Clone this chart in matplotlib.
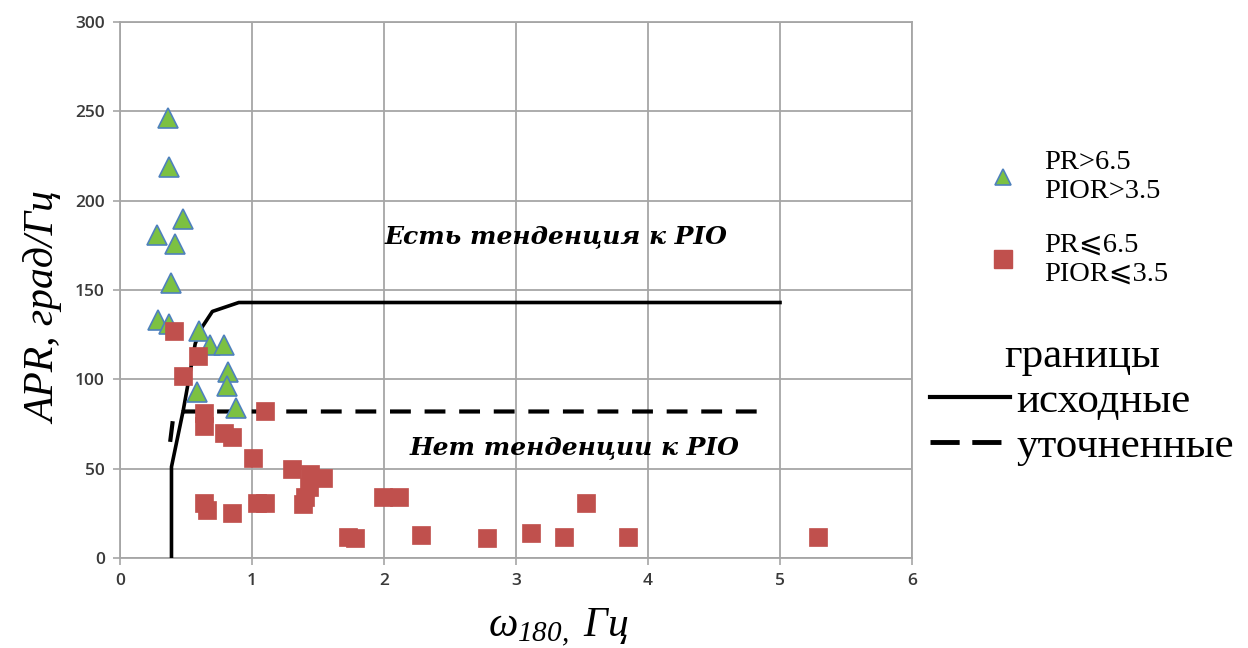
import numpy as np
import matplotlib
matplotlib.use('Agg')
import matplotlib.pyplot as plt
from matplotlib.lines import Line2D

# --- данные ---
tri_x = [0.36, 0.37, 0.28, 0.48, 0.42, 0.39, 0.29, 0.37, 0.60, 0.68, 0.79, 0.82, 0.81, 0.58, 0.88]
tri_y = [246, 219, 181, 190, 176, 154, 133, 131, 127, 119, 119, 104, 96, 93, 84]

sq_x = [0.41, 0.59, 0.48, 0.64, 0.64, 0.79, 0.85, 1.10, 1.01, 0.64, 0.66, 0.85, 1.04, 1.10,
        1.30, 1.44, 1.54, 1.43, 1.40, 1.39, 1.73, 1.78, 1.99, 2.11, 2.28, 2.78, 3.11, 3.36,
        3.53, 3.85, 5.29]
sq_y = [127, 113, 102, 81, 74, 70, 68, 82, 56, 31, 27, 25, 31, 31,
        50, 47, 45, 40, 34, 30, 12, 11, 34, 34, 13, 11, 14, 12,
        31, 12, 12]

# границы: исходные и уточненные
orig_x = [0.39, 0.39, 0.48, 0.57, 0.62, 0.70, 0.90, 5.0]
orig_y = [0, 51, 83, 120, 129, 138, 143, 143]
ref_x = [0.38, 0.39, 0.40, 0.48, 4.9]
ref_y = [65, 71, 77, 82, 82]

xticks = [0, 1, 2, 3, 4, 5, 6]
yticks = [0, 50, 100, 150, 200, 250, 300]

plt.rcParams['mathtext.fontset'] = 'custom'
plt.rcParams['mathtext.it'] = 'Liberation Serif:italic'
plt.rcParams['mathtext.rm'] = 'Liberation Serif:italic'
plt.rcParams['mathtext.default'] = 'it'

serif = ['Liberation Serif', 'DejaVu Serif', 'DejaVu Sans']
grid_col = '#a6a6a6'

fig = plt.figure(figsize=(12.48, 6.48), dpi=100)
ax = fig.add_axes([120 / 1248, 1 - 558 / 648, 792 / 1248, 536 / 648])

ax.plot(orig_x, orig_y, color='black', lw=2.6, solid_joinstyle='round', zorder=3)
ax.plot(ref_x, ref_y, color='black', lw=3, dashes=(5, 3.3), zorder=3)

ax.plot(tri_x, tri_y, ls='none', marker='^', ms=14, mfc='#7cc142', mec='#4f81bd',
        mew=1.2, zorder=4)
ax.plot(sq_x, sq_y, ls='none', marker='s', ms=12.5, mfc='#c0504d', mec='#c0504d',
        mew=0.5, zorder=5)

ax.text(3.3, 180, 'Есть тенденция к PIO', ha='center', va='center', fontsize=18,
        family='DejaVu Serif', weight='bold', style='italic')
ax.text(3.44, 62, 'Нет тенденции к PIO', ha='center', va='center', fontsize=18,
        family='DejaVu Serif', weight='bold', style='italic')

ax.set_xlim(0, 6)
ax.set_ylim(0, 300)
ax.set_xticks(xticks)
ax.set_yticks(yticks)
ax.grid(True, color=grid_col, lw=1.3)
ax.set_axisbelow(True)
for s in ax.spines.values():
    s.set_color(grid_col)
    s.set_linewidth(1.3)
ax.tick_params(direction='out', length=5, width=1.2, color=grid_col,
               labelsize=12.5, labelcolor='#3a3a3a', pad=6)
for lab in ax.get_xticklabels() + ax.get_yticklabels():
    lab.set_family('Open Sans')
    lab.set_weight('semibold')

ax.set_ylabel('APR, град/Гц', family=serif, style='italic', fontsize=30)
ax.yaxis.set_label_coords(-0.07, 0.466)
ax.set_xlabel(r'$\omega_{180,}\ Гц$', fontsize=30)
ax.xaxis.set_label_coords(0.553, -0.092)

# легенда: точки
h1 = [Line2D([], [], ls='none', marker='^', ms=11, mfc='#7cc142', mec='#4f81bd', mew=1.2),
      Line2D([], [], ls='none', marker='s', ms=12.5, mfc='#c0504d', mec='#c0504d')]
leg1 = fig.legend(h1, ['PR>6.5\nPIOR>3.5', 'PR⩽6.5\nPIOR⩽3.5'], loc='upper left',
                  bbox_to_anchor=(972 / 1248, 1 - 136 / 648), frameon=False,
                  prop={'family': serif, 'size': 20.5}, handlelength=1.2,
                  handletextpad=0.85, labelspacing=1.0, borderpad=0)

# легенда: границы
h2 = [Line2D([], [], color='black', lw=3),
      Line2D([], [], color='black', lw=3.5, dashes=(6, 2.6))]
leg2 = fig.legend(h2, ['исходные', 'уточненные'], loc='upper left',
                  bbox_to_anchor=(930 / 1248, 1 - 337 / 648), frameon=False,
                  prop={'family': serif, 'size': 31}, handlelength=1.85,
                  handletextpad=0.15, labelspacing=0.14, borderpad=0,
                  borderaxespad=0,
                  title='границы', title_fontproperties={'family': serif, 'size': 31})

fig.savefig('out.png', dpi=100)
